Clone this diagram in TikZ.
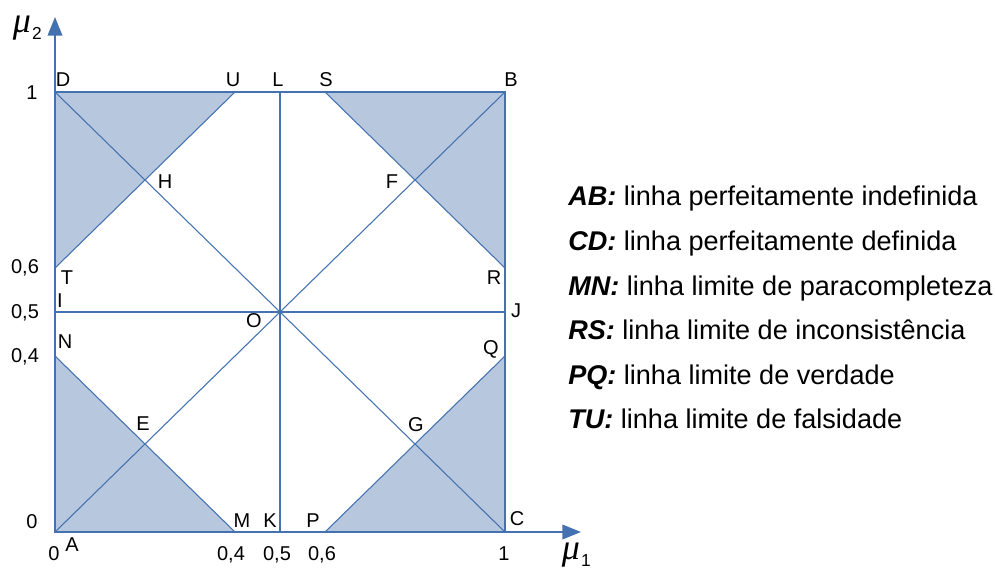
\documentclass[tikz,border=0pt]{standalone}
\usepackage{fontspec}
\setmainfont{Liberation Sans}
\newfontfamily\serifit{Liberation Serif}
\usetikzlibrary{arrows.meta}
\definecolor{lineblue}{RGB}{68,114,176}
\definecolor{fillblue}{RGB}{183,199,222}
\begin{document}
\begin{tikzpicture}[x=0.75pt,y=-0.75pt,
  lbl/.style={font=\fontsize{15}{18}\selectfont, inner sep=0pt, anchor=base},
  leg/.style={font=\fontsize{20.3}{24}\selectfont, inner sep=0pt, anchor=base west},
  mustyle/.style={font=\serifit\itshape\fontsize{27}{30}\selectfont, inner sep=0pt, anchor=base},
  substyle/.style={font=\fontsize{13}{15}\selectfont, inner sep=0pt, anchor=base},
  border/.style={draw=lineblue, line width=1.2pt},
  inner/.style={draw=lineblue, line width=0.8pt},
  shadearea/.style={fill=fillblue},
  axis/.style={draw=lineblue, line width=1.2pt, -{Triangle[length=14pt,width=11pt]}}]
\useasboundingbox (0,0) rectangle (995,570);
% geometric points
\coordinate (A) at (55,532);
\coordinate (B) at (505,92);
\coordinate (C) at (505,532);
\coordinate (D) at (55,92);
\coordinate (M) at (235,532);
\coordinate (K) at (280,532);
\coordinate (P) at (325,532);
\coordinate (N) at (55,356);
\coordinate (I) at (55,312);
\coordinate (T) at (55,268);
\coordinate (U) at (235,92);
\coordinate (L) at (280,92);
\coordinate (S) at (325,92);
\coordinate (R) at (505,268);
\coordinate (J) at (505,312);
\coordinate (Q) at (505,356);
\coordinate (O) at (280,312);
\coordinate (ytip) at (55,17);
\coordinate (xtip) at (581,532);
% shaded triangles
\fill[shadearea] (A) -- (M) -- (N) -- cycle;
\fill[shadearea] (D) -- (U) -- (T) -- cycle;
\fill[shadearea] (B) -- (S) -- (R) -- cycle;
\fill[shadearea] (C) -- (P) -- (Q) -- cycle;
% inner lines
\draw[inner] (A) -- (B);
\draw[inner] (C) -- (D);
\draw[inner] (K) -- (L);
\draw[inner] (I) -- (J);
\draw[inner] (N) -- (M);
\draw[inner] (T) -- (U);
\draw[inner] (S) -- (R);
\draw[inner] (P) -- (Q);
% border
\draw[border] (A) -- (C) -- (B) -- (D) -- cycle;
% axes
\draw[axis] (A) -- (ytip);
\draw[axis] (A) -- (xtip);
% axis titles
\node[mustyle] (mu2) at (22,33) {μ};
\node[substyle] (mu2s) at (37,40) {2};
\node[mustyle] (mu1) at (571,559) {μ};
\node[substyle] (mu1s) at (586,566) {1};
% point labels
\node[lbl] (lD) at (63,87) {D};
\node[lbl] (lU) at (233,87) {U};
\node[lbl] (lL) at (278,87) {L};
\node[lbl] (lS) at (326,87) {S};
\node[lbl] (lB) at (511,87) {B};
\node[lbl] (lH) at (165,189) {H};
\node[lbl] (lF) at (392,189) {F};
\node[lbl] (lT) at (67,284) {T};
\node[lbl] (lI) at (60,307) {I};
\node[lbl] (lR) at (494,284) {R};
\node[lbl] (lJ) at (516,317) {J};
\node[lbl] (lO) at (254,327) {O};
\node[lbl] (lN) at (65,348) {N};
\node[lbl] (lQ) at (491,354) {Q};
\node[lbl] (lE) at (143,430) {E};
\node[lbl] (lG) at (416,431) {G};
\node[lbl] (lM) at (242,527) {M};
\node[lbl] (lK) at (270,527) {K};
\node[lbl] (lP) at (313,527) {P};
\node[lbl] (lC) at (517,525) {C};
\node[lbl] (lA) at (72,551) {A};
% axis numbers
\node[lbl] (y1) at (32,100) {1};
\node[lbl] (y06) at (25,273) {0,6};
\node[lbl] (y05) at (25,318) {0,5};
\node[lbl] (y04) at (25,362) {0,4};
\node[lbl] (y0) at (32,528) {0};
\node[lbl] (x0) at (54,560) {0};
\node[lbl] (x04) at (231,560) {0,4};
\node[lbl] (x05) at (277,560) {0,5};
\node[lbl] (x06) at (322,560) {0,6};
\node[lbl] (x1) at (504,560) {1};
% legend
\node[leg] (g1) at (568,206) {\textbf{\textit{AB:}} linha perfeitamente indefinida};
\node[leg] (g2) at (568,250) {\textbf{\textit{CD:}} linha perfeitamente definida};
\node[leg] (g3) at (568,295) {\textbf{\textit{MN:}} linha limite de paracompleteza};
\node[leg] (g4) at (568,339) {\textbf{\textit{RS:}} linha limite de inconsistência};
\node[leg] (g5) at (568,384) {\textbf{\textit{PQ:}} linha limite de verdade};
\node[leg] (g6) at (568,428) {\textbf{\textit{TU:}} linha limite de falsidade};
\end{tikzpicture}
\end{document}
